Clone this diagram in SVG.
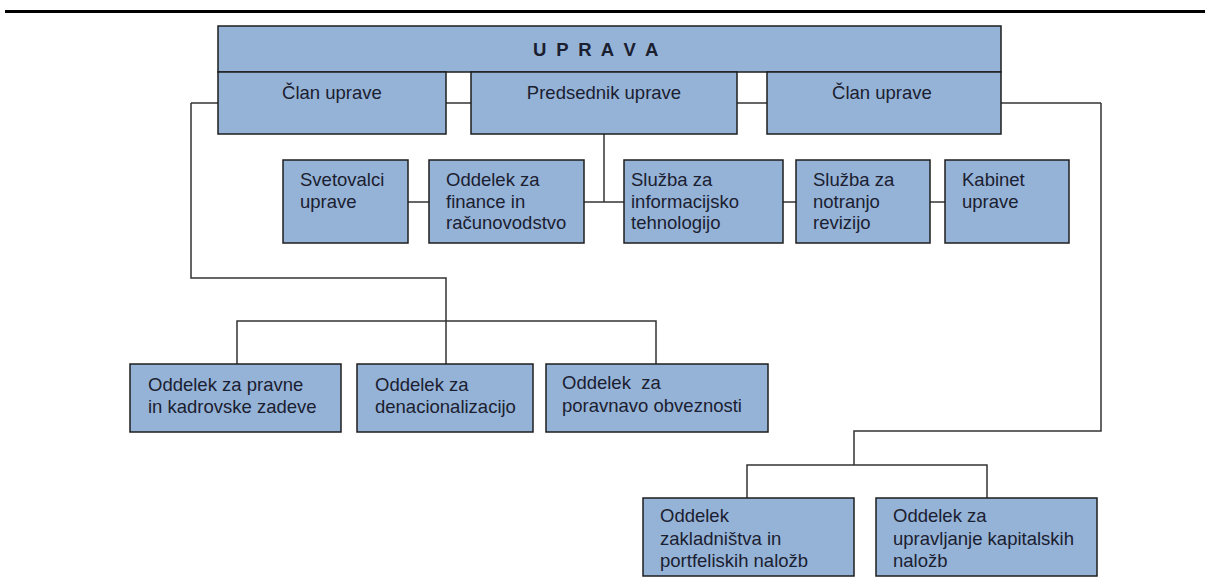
<svg xmlns="http://www.w3.org/2000/svg" width="1210" height="584" viewBox="0 0 1210 584">
<style>
.box{fill:#95b3d7;stroke:#1e1e1e;stroke-width:1.5}
.t{font-family:"Liberation Sans",Arial,sans-serif;font-size:18.5px;fill:#1b2030}
.tc{text-anchor:middle}
.title{font-family:"Liberation Sans",Arial,sans-serif;font-size:18.5px;font-weight:bold;fill:#1b2030;letter-spacing:2.4px}
.c{fill:none;stroke:#333;stroke-width:1.5}
</style>
<rect x="0" y="0" width="1210" height="584" fill="#ffffff"/>
<line x1="5" y1="11.5" x2="1205" y2="11.5" stroke="#000" stroke-width="3"/>
<g id="connectors">
<path class="c" d="M191,103 H1101"/>
<path class="c" d="M191,103 V278 H446 V364"/>
<path class="c" d="M237,364 V321 H656 V364"/>
<path class="c" d="M604,134 V202"/>
<path class="c" d="M408,202 H945"/>
<path class="c" d="M1101,103 V431 H854 V465"/>
<path class="c" d="M747,498 V465 H987 V498"/>
</g>
<g id="uprava">
<rect class="box" x="218" y="26" width="783" height="46"/>
<text class="title" x="533" y="56">U P R A V A</text>
</g>
<g id="clan-levi">
<rect class="box" x="218" y="72" width="228" height="62"/>
<text class="t tc" x="332" y="99">Član uprave</text>
</g>
<g id="predsednik">
<rect class="box" x="471" y="72" width="266" height="62"/>
<text class="t tc" x="604" y="99">Predsednik uprave</text>
</g>
<g id="clan-desni">
<rect class="box" x="767" y="72" width="234" height="62"/>
<text class="t tc" x="882" y="99">Član uprave</text>
</g>
<g id="svetovalci">
<rect class="box" x="283" y="160" width="125" height="83"/>
<text class="t" x="300" y="186">Svetovalci</text>
<text class="t" x="300" y="208">uprave</text>
</g>
<g id="finance">
<rect class="box" x="429" y="160" width="155" height="83"/>
<text class="t" x="446" y="186">Oddelek za</text>
<text class="t" x="446" y="208">finance in</text>
<text class="t" x="446" y="229">računovodstvo</text>
</g>
<g id="informatika">
<rect class="box" x="624" y="160" width="159" height="83"/>
<text class="t" x="631" y="186">Služba za</text>
<text class="t" x="631" y="208">informacijsko</text>
<text class="t" x="631" y="229">tehnologijo</text>
</g>
<g id="revizija">
<rect class="box" x="796" y="160" width="134" height="83"/>
<text class="t" x="813" y="186">Služba za</text>
<text class="t" x="813" y="208">notranjo</text>
<text class="t" x="813" y="229">revizijo</text>
</g>
<g id="kabinet">
<rect class="box" x="945" y="160" width="124" height="83"/>
<text class="t" x="962" y="186">Kabinet</text>
<text class="t" x="962" y="208">uprave</text>
</g>
<g id="pravne">
<rect class="box" x="130" y="364" width="211" height="68"/>
<text class="t" x="148" y="391">Oddelek za pravne</text>
<text class="t" x="148" y="413">in kadrovske zadeve</text>
</g>
<g id="denacionalizacija">
<rect class="box" x="357" y="364" width="176" height="68"/>
<text class="t" x="375" y="391">Oddelek za</text>
<text class="t" x="375" y="413">denacionalizacijo</text>
</g>
<g id="poravnava">
<rect class="box" x="546" y="364" width="222" height="68"/>
<text class="t" x="562" y="389" xml:space="preserve">Oddelek  za</text>
<text class="t" x="562" y="412">poravnavo obveznosti</text>
</g>
<g id="zakladnistvo">
<rect class="box" x="643" y="498" width="211" height="78"/>
<text class="t" x="660" y="522">Oddelek</text>
<text class="t" x="660" y="545">zakladništva in</text>
<text class="t" x="660" y="567">portfeliskih naložb</text>
</g>
<g id="kapitalske">
<rect class="box" x="876" y="498" width="221" height="78"/>
<text class="t" x="893" y="522">Oddelek za</text>
<text class="t" x="893" y="545">upravljanje kapitalskih</text>
<text class="t" x="893" y="567">naložb</text>
</g>
</svg>
